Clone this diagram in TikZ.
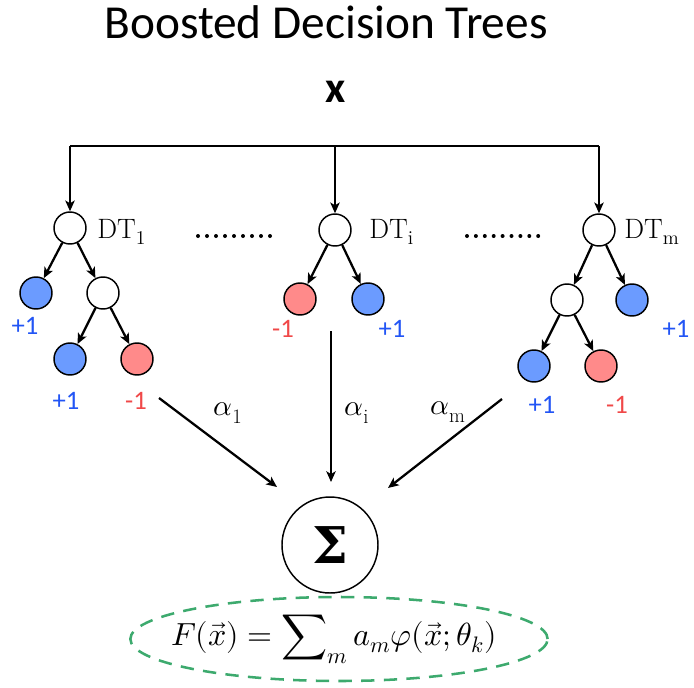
\documentclass[tikz,border=0pt]{standalone}
\usepackage{amsmath}
\usepackage{fontspec}
\usepackage{unicode-math}
\setsansfont{Carlito}
\setmathfont{Latin Modern Math}
\newfontfamily\griega{DejaVu Serif}
\usetikzlibrary{positioning,arrows.meta,shapes.geometric,calc}
\definecolor{azul}{HTML}{6B9BFF}
\definecolor{rojo}{HTML}{FF8A8A}
\definecolor{azultxt}{HTML}{2255F5}
\definecolor{rojotxt}{HTML}{F04848}
\definecolor{verde}{HTML}{3DAA6E}

\begin{document}
\begin{tikzpicture}[x=0.75pt, y=-0.75pt,
  nodo/.style={circle, draw, line width=1.1pt, minimum size=24pt, inner sep=0pt, fill=white},
  hoja/.style={nodo, fill=#1},
  flecha/.style={-{Stealth[length=8pt, width=7pt, inset=2pt]}, line width=1.7pt},
  etiq/.style={font=\sffamily\fontsize{20}{20}\selectfont, text=#1, inner sep=0pt},
  dt/.style={font=\fontsize{21}{21}\selectfont, anchor=base west, inner sep=0pt},
  peso/.style={font=\fontsize{22}{22}\selectfont, inner sep=0pt}]
  \useasboundingbox (0,0) rectangle (694,687);
  \node[font=\sffamily\fontsize{35.5}{35.5}\selectfont] (titulo) at (326,22) {Boosted Decision Trees};
  \node[font=\sffamily\bfseries\fontsize{33}{33}\selectfont, inner sep=0pt] (x) at (336,92) {x};

  % reparto de x a los arboles
  \coordinate (bus) at (0,146);
  \node[nodo] (dt1) at (70,228) {};
  \node[nodo] (dti) at (335,230) {};
  \node[nodo] (dtm) at (599,230) {};
  \draw[line width=1.7pt] (dt1 |- bus) -- (dtm |- bus);
  \foreach \r in {dt1,dti,dtm} \draw[flecha] (\r |- bus) -- (\r);
  \node[dt] (n1) at (97,238) {$\mathrm{DT}_{\mathrm{1}}$};
  \node[dt] (ni) at (369,238) {$\mathrm{DT}_{\mathrm{i}}$};
  \node[dt] (nm) at (624,238) {$\mathrm{DT}_{\mathrm{m}}$};
  \foreach \k in {0,...,8} {
    \fill (198+9*\k,236) circle (1.5pt);
    \fill (467+8.9*\k,236) circle (1.5pt);
  }

  % arbol 1
  \node[hoja=azul] (a1) at (36,293) {};
  \node[nodo] (a2) at (103,293) {};
  \node[hoja=azul] (a3) at (70,359) {};
  \node[hoja=rojo] (a4) at (137,359) {};
  \draw[flecha] (dt1) -- (a1);
  \draw[flecha] (dt1) -- (a2);
  \draw[flecha] (a2) -- (a3);
  \draw[flecha] (a2) -- (a4);
  \node[etiq=azultxt] (e1) at (25,326) {+1};
  \node[etiq=azultxt] (e2) at (66,401) {+1};
  \node[etiq=rojotxt] (e3) at (136,401) {-1};

  % arbol i
  \node[hoja=rojo] (b1) at (300,299) {};
  \node[hoja=azul] (b2) at (368,299) {};
  \draw[flecha] (dti) -- (b1);
  \draw[flecha] (dti) -- (b2);
  \node[etiq=rojotxt] (e4) at (283,329) {-1};
  \node[etiq=azultxt] (e5) at (392,329) {+1};

  % arbol m
  \node[nodo] (c1) at (567,300) {};
  \node[hoja=azul] (c2) at (632,300) {};
  \node[hoja=azul] (c3) at (534,366) {};
  \node[hoja=rojo] (c4) at (601,366) {};
  \draw[flecha] (dtm) -- (c1);
  \draw[flecha] (dtm) -- (c2);
  \draw[flecha] (c1) -- (c3);
  \draw[flecha] (c1) -- (c4);
  \node[etiq=azultxt] (e6) at (676,329) {+1};
  \node[etiq=azultxt] (e7) at (542,405) {+1};
  \node[etiq=rojotxt] (e8) at (617,405) {-1};

  % suma ponderada
  \node[circle, draw, line width=1.1pt, minimum size=72pt, inner sep=0pt,
    font=\griega\bfseries\fontsize{38}{38}\selectfont] (suma) at (330,545) {Σ};
  \coordinate (s1) at (159,398); \coordinate (f1) at (277,487);
  \coordinate (si) at (331,331); \coordinate (fi) at (331,482);
  \coordinate (sm) at (502,399); \coordinate (fm) at (388,488);
  \draw[flecha] (s1) -- (f1);
  \draw[flecha] (si) -- (fi);
  \draw[flecha] (sm) -- (fm);
  \node[peso] (w1) at (228,413) {$\alpha_{\mathrm{1}}$};
  \node[peso] (wi) at (357,413) {$\alpha_{\mathrm{i}}$};
  \node[peso] (wm) at (448,412) {$\alpha_{\mathrm{m}}$};

  \node[ellipse, draw=verde, dashed, dash pattern=on 10pt off 7pt, line width=1.9pt,
    minimum width=313pt, minimum height=63pt, inner sep=0pt] (marco) at (339,639) {};
  \node[anchor=base, inner sep=0pt, font=\fontsize{24}{24}\selectfont] (formula) at (334,645)
    {$F(\vec{x}) = \displaystyle\sum\nolimits_m a_m\varphi(\vec{x};\theta_k)$};
\end{tikzpicture}
\end{document}
